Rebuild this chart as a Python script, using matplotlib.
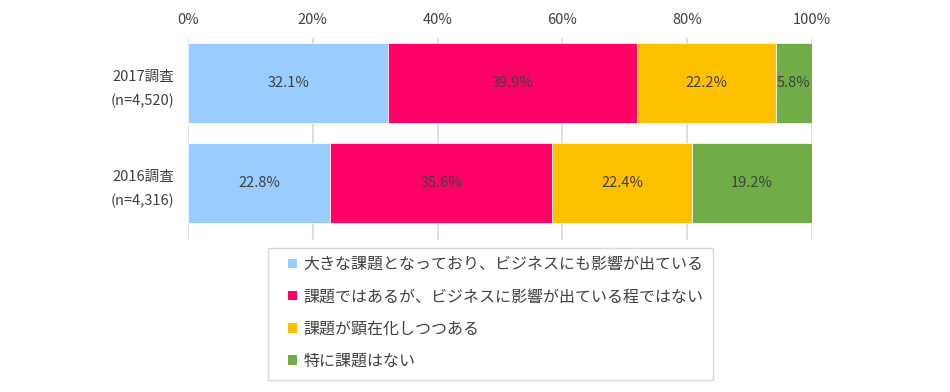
import matplotlib
matplotlib.use('Agg')
import matplotlib.pyplot as plt
from matplotlib.patches import Patch, Rectangle

plt.rcParams['font.family'] = ['Noto Sans CJK JP', 'DejaVu Sans']

# survey rows (top to bottom) and the four answer shares in percent
surveys = ['2017調査\n(n=4,520)', '2016調査\n(n=4,316)']
categories = ['大きな課題となっており、ビジネスにも影響が出ている',
              '課題ではあるが、ビジネスに影響が出ている程ではない',
              '課題が顕在化しつつある',
              '特に課題はない']
values = [[32.1, 39.9, 22.2, 5.8],
          [22.8, 35.6, 22.4, 19.2]]
colors = ['#99CCFF', '#FF0066', '#FFC000', '#70AD47']
ticks = [0, 20, 40, 60, 80, 100]

textcol = '#404040'
fs = 10.5
W, H = 950, 392

fig = plt.figure(figsize=(9.5, 3.92), dpi=100)
ax = fig.add_axes([188/W, 1-240/H, 624/W, 202/H])

ypos = [1, 0]
for row, y in zip(values, ypos):
    left = 0
    for v, c in zip(row, colors):
        ax.barh(y, v, left=left, height=0.8, color=c, edgecolor='white', linewidth=0.5, zorder=2)
        ax.text(left + v/2, y, '%.1f%%' % v, ha='center', va='center', fontsize=fs, color=textcol, zorder=3)
        left += v

ax.set_xlim(0, 100)
ax.set_ylim(-0.57, 1.45)
ax.set_xticks(ticks)
ax.set_xticklabels(['%d%%' % t for t in ticks], fontsize=fs, color=textcol)
ax.xaxis.tick_top()
ax.tick_params(axis='x', length=0, pad=8)
ax.set_yticks(ypos)
ax.set_yticklabels(surveys, fontsize=fs, color=textcol, linespacing=1.85)
ax.tick_params(axis='y', length=0, pad=10)
for t in ticks:
    ax.axvline(t, color='#D9D9D9', linewidth=1.2, zorder=1)
for s in ax.spines.values():
    s.set_visible(False)

# legend box drawn by hand so the padding matches
fig.patches.append(Rectangle((268/W, 1-380/H), 445/W, 132/H, transform=fig.transFigure,
                             facecolor='white', edgecolor='#D9D9D9', linewidth=1.0))
handles = [Patch(facecolor=c, edgecolor='none') for c in colors]
leg = fig.legend(handles, categories, loc='upper left', bbox_to_anchor=(288/W, 1-256/H),
                 fontsize=11.5, frameon=False, handlelength=0.55, handleheight=0.55,
                 handletextpad=0.4, labelspacing=0.95, borderpad=0, borderaxespad=0)
for t in leg.get_texts():
    t.set_color(textcol)

fig.savefig('out.png', dpi=100)
